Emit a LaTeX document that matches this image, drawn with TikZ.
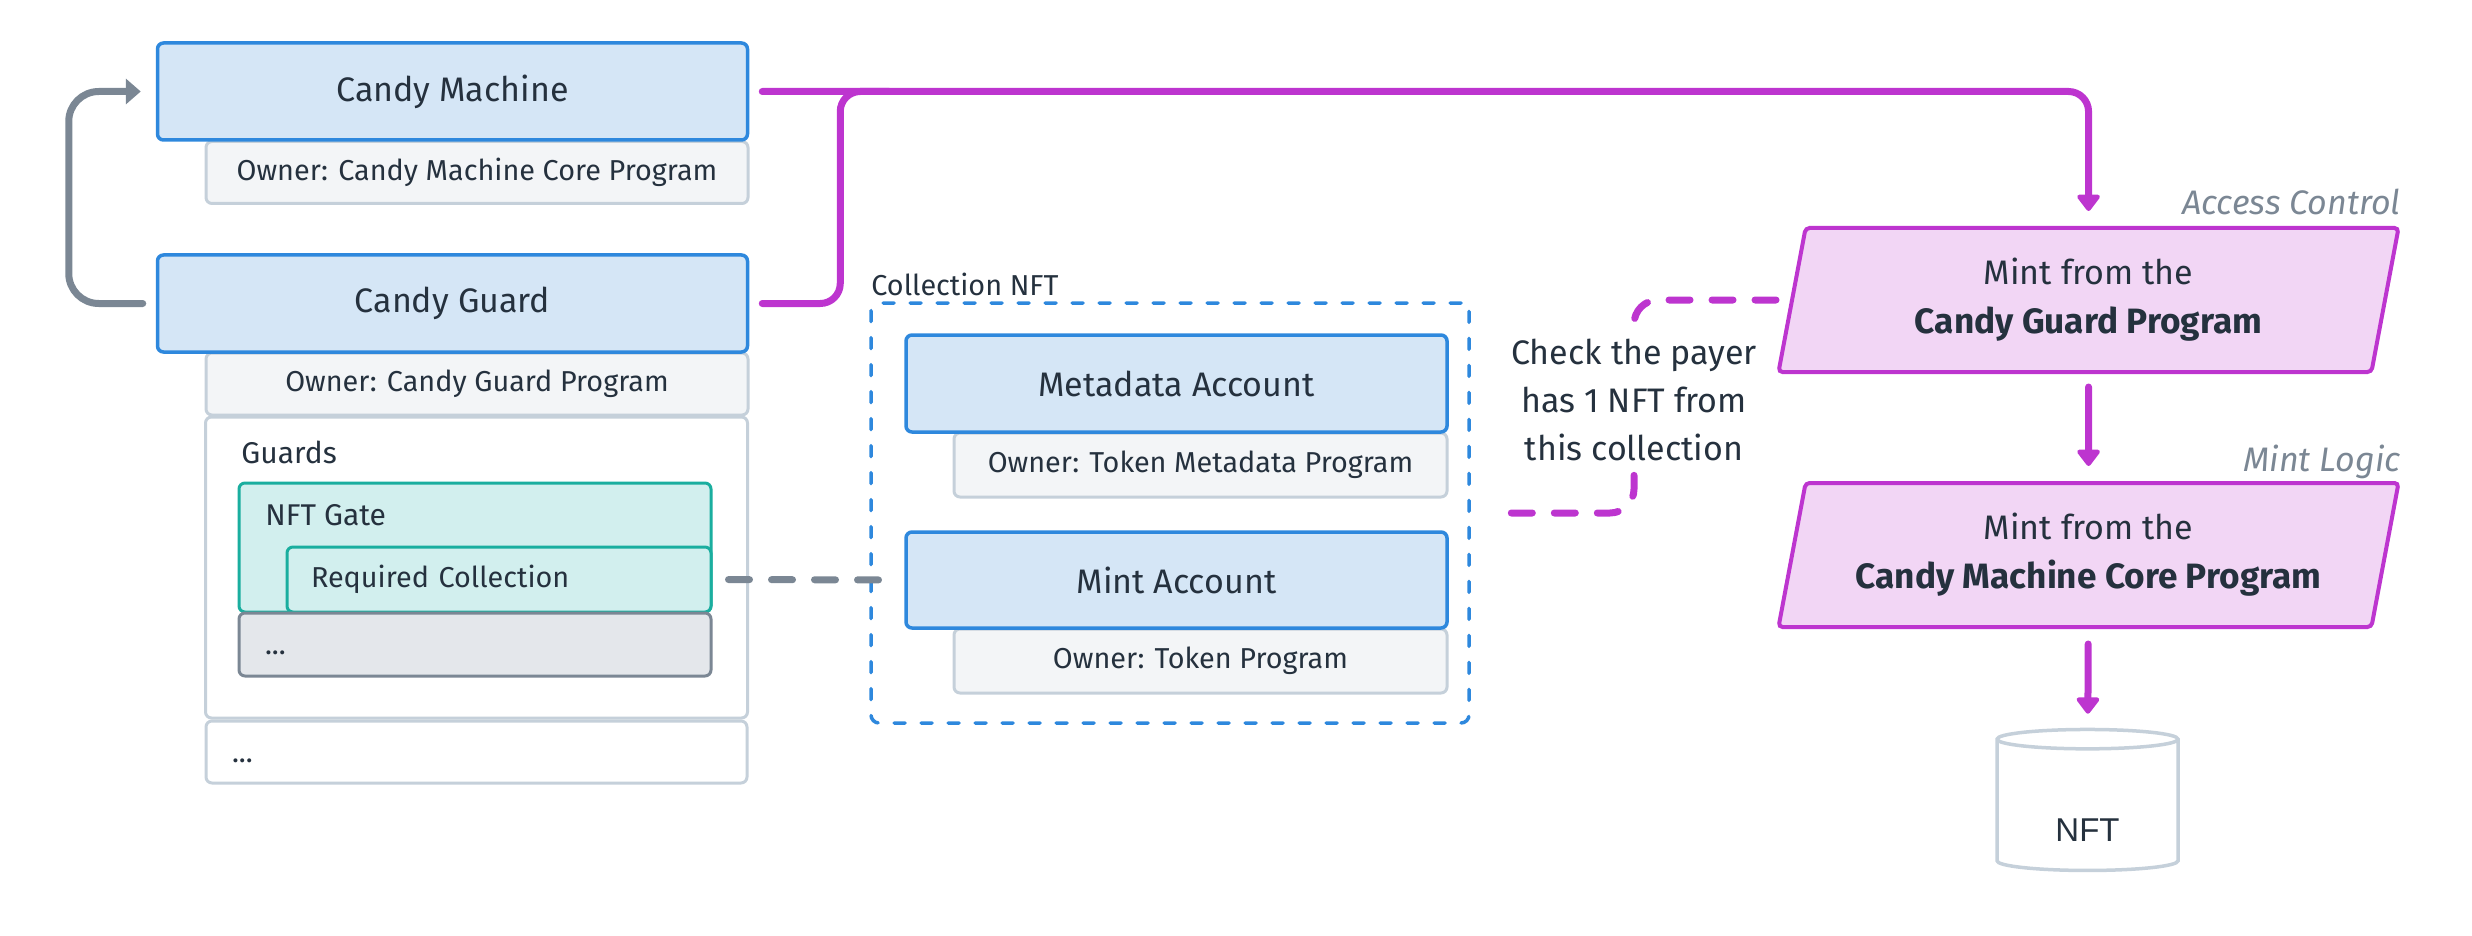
\documentclass[tikz,border=0pt]{standalone}
\usepackage{fontspec}
\setmainfont{Fira Sans}
\newfontfamily\nftfont{Liberation Sans}
\usetikzlibrary{shapes.geometric,arrows.meta}

\definecolor{ink}{HTML}{25313E}
\definecolor{acctline}{HTML}{2E88DD}
\definecolor{acctfill}{HTML}{D5E6F6}
\definecolor{ownline}{HTML}{C5D0DA}
\definecolor{ownfill}{HTML}{F3F5F7}
\definecolor{tealline}{HTML}{1AAE9F}
\definecolor{tealfill}{HTML}{D2EFEE}
\definecolor{moreline}{HTML}{7B8794}
\definecolor{morefill}{HTML}{E4E7EB}
\definecolor{mag}{HTML}{BD35CF}
\definecolor{magfill}{HTML}{F2D6F5}

\begin{document}
\begin{tikzpicture}[x=0.5pt,y=-0.5pt,
  acct/.style={draw=acctline, fill=acctfill, line width=1.75pt, rounded corners=3pt, inner sep=0pt,
    minimum width=295pt, minimum height=48.5pt, text=ink, font=\fontsize{17}{20}\selectfont},
  owner/.style={draw=ownline, fill=ownfill, line width=1.5pt, rounded corners=3pt, inner sep=0pt,
    minimum width=271pt, minimum height=31pt, text=ink, font=\fontsize{14.4}{18}\selectfont},
  leftbox/.style={text width=#1, align=left, inner xsep=13pt},
  lbl/.style={inner sep=0pt, text=ink, font=\fontsize{15}{18}\selectfont},
  mintstep/.style={trapezium, trapezium left angle=72, trapezium right angle=108, trapezium stretches body,
    draw=mag, fill=magfill, line width=2pt, rounded corners=2pt, inner sep=0pt,
    minimum width=310pt, minimum height=72pt, align=center, text=ink, font=\fontsize{17}{24.5}\selectfont},
  phase/.style={inner sep=0pt, text=moreline, font=\fontsize{17}{20}\selectfont\itshape},
  magline/.style={draw=mag, line width=3.5pt, line cap=round, rounded corners=10pt},
  magarrow/.style={magline, -{Triangle[width=13pt,length=9pt,round]}},
  grayarrow/.style={draw=moreline, line width=3.5pt, line cap=round, rounded corners=15pt,
    -{Triangle[width=12.5pt,length=7.5pt]}},
  graydash/.style={draw=moreline, line width=3.5pt, line cap=round, dash pattern=on 10.5pt off 11pt},
  magdash/.style={draw=mag, line width=3.5pt, line cap=round, dash pattern=on 10.5pt off 11pt, rounded corners=12pt}
]
\useasboundingbox (0,0) rectangle (2472,936);

% candy machine account
\node [owner] (cmown) at (477,172.5) {Owner: Candy Machine Core Program};
\node [acct] (cm) at (452.5,91.5) {Candy Machine};

% candy guard account
\node [owner] (cgown) at (477,384) {Owner: Candy Guard Program};
\node [acct] (cg) at (452.5,303.5) {Candy Guard};
\node [owner, fill=white, minimum height=150.5pt] (guards) at (476.5,567.5) {};
\node [lbl, anchor=base west] (guardslbl) at (241,463) {Guards};
\node [owner, draw=tealline, fill=tealfill, minimum width=236pt, minimum height=64.5pt] (nftgate) at (475,547.5) {};
\node [lbl, anchor=base west] (nftgatelbl) at (265,525) {NFT Gate};
\node [owner, draw=tealline, fill=tealfill, minimum width=212pt, minimum height=32.5pt, leftbox=188pt, inner xsep=12pt] (reqcol) at (499,579.5) {Required Collection};
\node [owner, draw=moreline, fill=morefill, minimum width=236pt, minimum height=31.5pt, leftbox=210pt,
  text height=10pt, text depth=0pt] (more) at (475,644.5) {...};
\node [owner, fill=white, minimum width=270.5pt, leftbox=244.5pt, text height=10pt, text depth=0pt] (cgmore) at (476.5,752) {...};

% collection nft
\node [draw=acctline, line width=1.75pt, line cap=round, dash pattern=on 5.5pt off 8pt, rounded corners=4pt,
  minimum width=299pt, minimum height=210pt] (colbox) at (1170,513) {};
\node [lbl, anchor=base west, font=\fontsize{14.4}{16}\selectfont] (coltitle) at (871,295) {Collection NFT};
\node [owner, minimum width=246.5pt, minimum height=32pt] (metaown) at (1200.5,465) {Owner: Token Metadata Program};
\node [acct, minimum width=270.5pt] (meta) at (1176.5,383.5) {Metadata Account};
\node [owner, minimum width=246.5pt, minimum height=32pt] (mintown) at (1200.5,661) {Owner: Token Program};
\node [acct, minimum width=270.5pt, minimum height=48pt] (mint) at (1176.5,580) {Mint Account};

% mint instructions
\node [mintstep] (pg1) at (2088.5,300) {Mint from the\\\fontsize{17.6}{24.5}\selectfont\textbf{Candy Guard Program}};
\node [phase, anchor=base east] (acl) at ([yshift=5.5pt]pg1.top right corner) {Access Control};
\node [mintstep] (pg2) at (2088.5,555) {Mint from the\\\fontsize{17.6}{24.5}\selectfont\textbf{Candy Machine Core Program}};
\node [phase, anchor=base east] (mlg) at ([yshift=5pt]pg2.top right corner) {Mint Logic};
\node [cylinder, shape border rotate=90, aspect=0.25, draw=ownline, fill=white, line width=1.75pt,
  minimum width=90.5pt, minimum height=70.5pt, text height=33.5pt, text depth=0pt,
  text=ink, font=\nftfont\fontsize{16.5}{18}\selectfont] (nft) at (2087.5,807.5) {NFT};

\node [fill=white, inner xsep=4pt, inner ysep=7pt, align=center, text=ink, font=\fontsize{17}{24}\selectfont] (check) at (1634,400)
  {Check the payer\\has 1 NFT from\\this collection};

% connectors
\draw[grayarrow, shorten <=6.5pt, shorten >=7.5pt] (cg.west) -- ++(-87,0) |- (cm.west);
\draw[magarrow, shorten <=6.5pt, shorten >=7.5pt] (cm.east) -| (pg1.north);
\draw[magline, shorten <=6.5pt] (cg.east) -| ([xshift=45.5pt]cm.east) -- ([xshift=70pt]cm.east);
\draw[magarrow, shorten <=6.5pt, shorten >=7.5pt] (pg1) -- (pg2);
\draw[magarrow, shorten <=7.5pt, shorten >=7pt] (pg2) -- (nft);
\draw[graydash, shorten <=8pt, shorten >=9.5pt] (reqcol.east) -- (mint.west);
\draw[magdash, shorten <=7pt] (pg1.west) -| (check.north);
\draw[magdash, shorten >=16pt] (check.south) |- (colbox.east);
%\draw[magdash] (check) -- (mint);
\end{tikzpicture}
\end{document}
